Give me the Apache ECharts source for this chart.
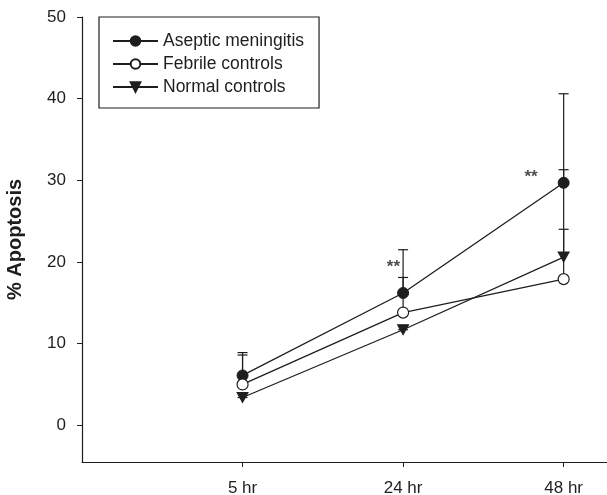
<!DOCTYPE html>
<html>
<head>
<meta charset="utf-8">
<script src="https://cdn.jsdelivr.net/npm/echarts@6/dist/echarts.min.js"></script>
<style>
html,body{margin:0;padding:0;background:#fff;}
#c{width:607px;height:495px;}
</style>
</head>
<body>
<div id="c"></div>
<script>
// Data
var timeLabels = ['5 hr', '24 hr', '48 hr'];
var timePos = [1, 2, 3];
var asepticMean = [6.1, 16.2, 29.7];
var asepticUpper = [8.9, 21.5, 40.6];
var febrileMean = [5.0, 13.8, 17.9];
var febrileUpper = [8.6, 18.1, 24.0];
var normalMean = [3.4, 11.7, 20.6];
var normalUpper = [3.4, 11.7, 31.3];
var yTicks = [0, 10, 20, 30, 40, 50];
var sigX = [2, 3];
var sigY = [19.3, 30.4];
var sigText = ['**', '**'];

var INK = '#1e1e1e';
var FONT = 'Liberation Sans, Arial, sans-serif';
var sigGap = [3, 26];

function pairs(means) { return timePos.map(function (x, i) { return [x, means[i]]; }); }
function errData(means, uppers) { return timePos.map(function (x, i) { return [x, means[i], uppers[i]]; }); }

function errorSeries(means, uppers) {
  return {
    type: 'custom',
    silent: true,
    z: 1,
    data: errData(means, uppers),
    renderItem: function (params, api) {
      var x = api.value(0), lo = api.value(1), hi = api.value(2);
      var p0 = api.coord([x, lo]);
      var p1 = api.coord([x, hi]);
      var w = 5;
      var st = { stroke: INK, lineWidth: 1.2 };
      return {
        type: 'group',
        children: [
          { type: 'line', shape: { x1: p0[0], y1: p0[1], x2: p1[0], y2: p1[1] }, style: st },
          { type: 'line', shape: { x1: p1[0] - w, y1: p1[1], x2: p1[0] + w, y2: p1[1] }, style: st }
        ]
      };
    }
  };
}

var chart = echarts.init(document.getElementById('c'), null, { renderer: 'canvas' });
chart.setOption({
  backgroundColor: '#fff',
  animation: false,
  textStyle: { fontFamily: FONT, color: INK },
  grid: { left: 82, right: 0, top: 17, bottom: 33, containLabel: false, outerBoundsMode: 'none' },
  legend: {
    orient: 'vertical',
    left: 99,
    top: 17,
    padding: [15, 15, 12, 13],
    itemGap: 5,
    itemWidth: 45,
    itemHeight: 12,
    borderColor: INK,
    borderWidth: 1.2,
    borderRadius: 0,
    textStyle: { fontSize: 17.5, color: INK, fontFamily: FONT },
    data: ['Aseptic meningitis', 'Febrile controls', 'Normal controls']
  },
  xAxis: {
    type: 'value',
    min: 0,
    max: 3.27,
    splitLine: { show: false },
    axisLine: { onZero: false, lineStyle: { color: INK, width: 1.2 } },
    axisTick: { customValues: timePos, length: 5, lineStyle: { color: INK } },
    axisLabel: {
      customValues: timePos,
      margin: 18,
      fontSize: 17,
      color: INK,
      fontFamily: FONT,
      formatter: function (v) { var i = timePos.indexOf(v); return i >= 0 ? timeLabels[i] : ''; }
    }
  },
  yAxis: {
    type: 'value',
    min: -4.5,
    max: 50,
    name: '% Apoptosis',
    nameLocation: 'middle',
    nameGap: 57,
    nameTextStyle: { fontSize: 20, fontWeight: 'bold', color: INK, fontFamily: FONT },
    splitLine: { show: false },
    axisLine: { show: true, lineStyle: { color: INK, width: 1.2 } },
    axisTick: { show: true, customValues: yTicks, length: 5, lineStyle: { color: INK } },
    axisLabel: { customValues: yTicks, margin: 16, fontSize: 17, color: INK, fontFamily: FONT }
  },
  series: [
    errorSeries(asepticMean, asepticUpper),
    errorSeries(febrileMean, febrileUpper),
    errorSeries(normalMean, normalUpper),
    {
      name: 'Aseptic meningitis', type: 'line', z: 3,
      data: pairs(asepticMean),
      symbol: 'circle', symbolSize: 11,
      lineStyle: { color: INK, width: 1.3 },
      itemStyle: { color: INK, borderColor: INK, borderWidth: 1 }
    },
    {
      name: 'Febrile controls', type: 'line', z: 3,
      data: pairs(febrileMean),
      symbol: 'circle', symbolSize: 11,
      lineStyle: { color: INK, width: 1.3 },
      itemStyle: { color: '#fff', borderColor: INK, borderWidth: 1.2 }
    },
    {
      name: 'Normal controls', type: 'line', z: 3,
      data: pairs(normalMean),
      symbol: 'triangle', symbolRotate: 180, symbolSize: [11, 10],
      lineStyle: { color: INK, width: 1.3 },
      itemStyle: { color: INK, borderColor: INK, borderWidth: 1 }
    },
    {
      type: 'scatter', z: 4, silent: true,
      symbolSize: 0,
      data: sigX.map(function (x, i) {
        return { value: [x, sigY[i]], label: { distance: sigGap[i] }, name: sigText[i] };
      }),
      label: {
        show: true,
        position: 'left',
        formatter: function (p) { return p.name; },
        fontSize: 17, fontWeight: 'bold', color: INK, fontFamily: FONT
      }
    }
  ]
});
</script>
</body>
</html>
